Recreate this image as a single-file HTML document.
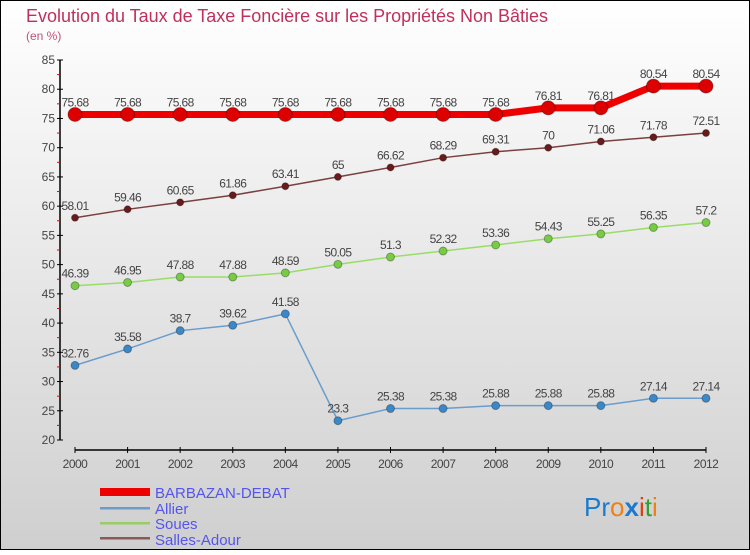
<!DOCTYPE html>
<html><head><meta charset="utf-8"><style>
body{margin:0}
#c{width:750px;height:550px;position:relative;font-family:"Liberation Sans",sans-serif}
</style></head><body>
<div id="c">
<svg id="s" width="750" height="550" xmlns="http://www.w3.org/2000/svg">
<defs><linearGradient id="bg" x1="0" y1="0" x2="0" y2="1"><stop offset="0" stop-color="#ffffff"/><stop offset="1" stop-color="#cfcfcf"/></linearGradient></defs>
<rect x="0.5" y="0.5" width="749" height="549" fill="url(#bg)" stroke="#000"/>
<text x="26" y="22" font-size="18" fill="#c0305a" textLength="522">Evolution du Taux de Taxe Foncière sur les Propriétés Non Bâties</text>
<text x="26" y="40" font-size="12" fill="#c0507a">(en %)</text>
<g id="axes"></g><g id="series"></g>
<g>
<rect x="100" y="488" width="50" height="8" fill="#e00"/>
<text x="155" y="498" font-size="15" fill="#5555ee">BARBAZAN-DEBAT</text>
<rect x="100" y="507" width="50" height="2.5" fill="#6a9ccc"/>
<text x="155" y="514" font-size="15" fill="#5555ee">Allier</text>
<rect x="100" y="522" width="50" height="2.5" fill="#99cc66"/>
<text x="155" y="529" font-size="15" fill="#5555ee">Soues</text>
<rect x="100" y="537" width="50" height="2.5" fill="#8a5a5a"/>
<text x="155" y="545" font-size="15" fill="#5555ee">Salles-Adour</text>
</g>
<g font-size="26">
<text x="584" y="516"><tspan fill="#1a7ad0">Pr</tspan><tspan fill="#f08010">o</tspan><tspan fill="#1a7ad0" font-weight="bold">x</tspan><tspan fill="#e04010">i</tspan><tspan fill="#30a030">t</tspan><tspan fill="#f08010">i</tspan></text>
</g>
</svg>
</div>
<script>
const years=[2000,2001,2002,2003,2004,2005,2006,2007,2008,2009,2010,2011,2012];
const barbazan=[75.68,75.68,75.68,75.68,75.68,75.68,75.68,75.68,75.68,76.81,76.81,80.54,80.54];
const allier=[32.76,35.58,38.7,39.62,41.58,23.3,25.38,25.38,25.88,25.88,25.88,27.14,27.14];
const soues=[46.39,46.95,47.88,47.88,48.59,50.05,51.3,52.32,53.36,54.43,55.25,56.35,57.2];
const salles=[58.01,59.46,60.65,61.86,63.41,65,66.62,68.29,69.31,70,71.06,71.78,72.51];
const yTicks=[20,25,30,35,40,45,50,55,60,65,70,75,80,85];
const NS="http://www.w3.org/2000/svg";
const X=i=>75+i*(706-75)/(years.length-1);
const Y=v=>440-(v-20)*(380/65);
function mk(t,a,p){const e=document.createElementNS(NS,t);for(const k in a)e.setAttribute(k,a[k]);p.appendChild(e);return e;}
const ax=document.getElementById('axes');
let yl=mk('line',{x1:60,y1:Y(85),x2:60,y2:Y(20),stroke:'#000','stroke-width':1.5},ax);


let xl=mk('line',{x1:75,y1:450,x2:706,y2:450,stroke:'#000','stroke-width':1.5},ax);


yTicks.forEach(v=>{
  mk('line',{x1:57,y1:Y(v),x2:63,y2:Y(v),stroke:'#000'},ax);
  if(v<85)mk('line',{x1:57,y1:Y(v+2.5),x2:60,y2:Y(v+2.5),stroke:'#e00'},ax);
  const t=mk('text',{x:55,y:Y(v)+4,'font-size':12,'text-anchor':'end',fill:'#444'},ax);t.textContent=v;
  
  
});
years.forEach((y,i)=>{
  mk('line',{x1:X(i),y1:447,x2:X(i),y2:453,stroke:'#000'},ax);
  const t=mk('text',{x:X(i),y:468,'font-size':12,'text-anchor':'middle',fill:'#444','letter-spacing':'-0.5'},ax);t.textContent=y;
  
  
});
const sg=document.getElementById('series');
function draw(data,color,dot,w,r,name){
  const g=mk('g',{},sg);
  
  
  const pl=mk('polyline',{points:data.map((v,i)=>X(i)+','+Y(v)).join(' '),fill:'none',stroke:color,'stroke-width':w},g);
  
  
  data.forEach((v,i)=>{
    const c=mk('circle',{cx:X(i),cy:Y(v),r:r,fill:dot,stroke:'rgba(0,0,0,0.3)'},g);
    
    
    const t=mk('text',{x:X(i),y:Y(v)-8,'font-size':12,'text-anchor':'middle',fill:'#444','letter-spacing':'-0.6'},g);
    t.textContent=v;
    
    
  });
}
draw(allier,'#6a9ccc','#3a88c8',1.5,4,'allier');
draw(soues,'#99dd66','#77cc44',1.5,4,'soues');
draw(salles,'#7a4040','#6a1a1a',1.5,3.5,'salles-adour');
draw(barbazan,'#ee0000','#dd0000',7,7,'barbazan-debat');
</script>
</body></html>
